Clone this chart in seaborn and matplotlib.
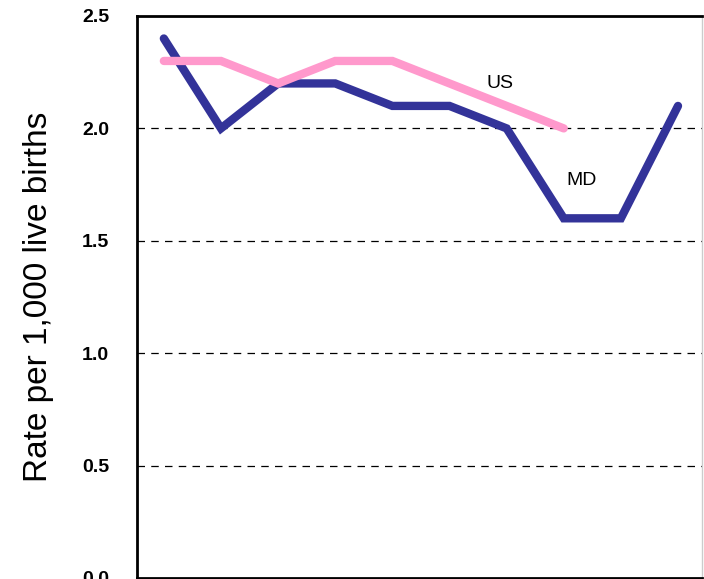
import pandas as pd
import matplotlib.pyplot as plt
import seaborn as sns

# Data (x labels are cropped out of the picture)
points = list(range(10))
md_rate = [2.4, 2.0, 2.2, 2.2, 2.1, 2.1, 2.0, 1.6, 1.6, 2.1]
us_rate = [2.3, 2.3, 2.2, 2.3, 2.3, 2.2, 2.1, 2.0]
y_ticks = [0.0, 0.5, 1.0, 1.5, 2.0, 2.5]

md_df = pd.DataFrame({'Point': points, 'Rate': md_rate})
us_df = pd.DataFrame({'Point': points[:len(us_rate)], 'Rate': us_rate})

sns.set_theme(style="white")
plt.rcParams['font.family'] = ['Liberation Sans', 'DejaVu Sans']

fig = plt.figure(figsize=(7.04, 5.79), dpi=100)
ax = fig.add_axes([137 / 704, 1 - 578 / 579, 565 / 704, 562 / 579])

for yv in y_ticks[1:-1]:
    ax.axhline(yv, color='black', linewidth=0.9, linestyle=(0, (6, 5)), zorder=1)

sns.lineplot(ax=ax, data=us_df, x='Point', y='Rate', color='#ff99cc',
             linewidth=6, solid_capstyle='round', solid_joinstyle='miter', zorder=3)
sns.lineplot(ax=ax, data=md_df, x='Point', y='Rate', color='#333399',
             linewidth=6, solid_capstyle='round', solid_joinstyle='miter', zorder=2)

ax.text(5.88, 2.2, 'US', fontsize=14, ha='center', va='center', color='black')
ax.text(7.32, 1.77, 'MD', fontsize=14, ha='center', va='center', color='black')

ax.set_xlim(-0.47, 9.42)
ax.set_ylim(0, 2.5)
ax.set_yticks(y_ticks)
ax.set_yticklabels([f'{v:.1f}' for v in y_ticks], fontsize=14, fontweight='bold', color='black')
ax.tick_params(axis='y', length=0, pad=20)
ax.set_xticks([])
ax.set_xlabel('')
ax.set_ylabel('Rate per 1,000 live births', fontsize=24, labelpad=20, color='black')

for side in ['left', 'top', 'bottom']:
    ax.spines[side].set_color('black')
    ax.spines[side].set_linewidth(2)
ax.spines['right'].set_color('#cccccc')
ax.spines['right'].set_linewidth(1)

fig.savefig('out.png', dpi=100)
